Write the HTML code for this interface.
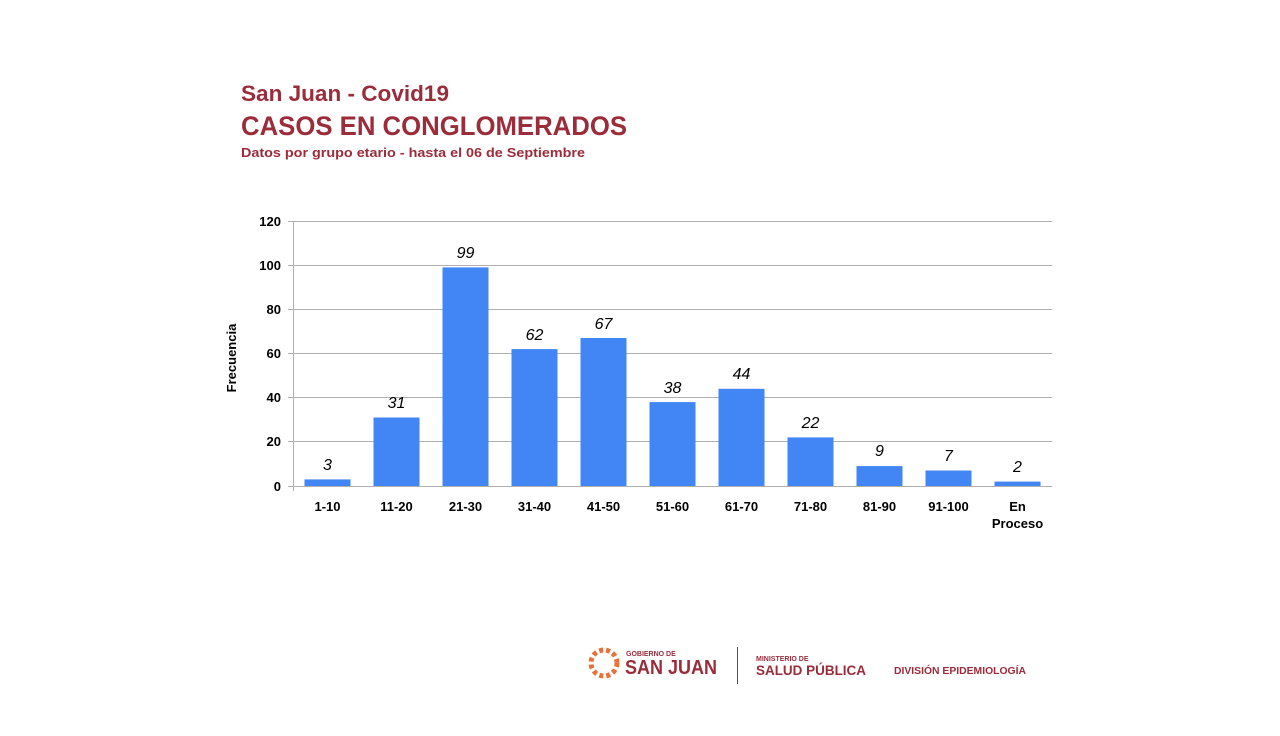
<!DOCTYPE html>
<html><head><meta charset="utf-8"><style>
body{margin:0;background:#fff;width:1280px;height:731px;overflow:hidden;font-family:"Liberation Sans",sans-serif}
</style></head><body>
<svg width="1280" height="731" xmlns="http://www.w3.org/2000/svg" font-family="Liberation Sans, sans-serif">
<text x="241" y="101" font-size="22" font-weight="bold" fill="#9b2c3a" textLength="208" lengthAdjust="spacingAndGlyphs">San Juan - Covid19</text>
<text x="241" y="135" font-size="27" font-weight="bold" fill="#9b2c3a" textLength="386" lengthAdjust="spacingAndGlyphs">CASOS EN CONGLOMERADOS</text>
<text x="241" y="157" font-size="12.5" font-weight="bold" fill="#9b2c3a" textLength="344" lengthAdjust="spacingAndGlyphs">Datos por grupo etario - hasta el 06 de Septiembre</text>
<g stroke="#b0b0b0" stroke-width="1">
<line x1="288" y1="221.5" x2="1052" y2="221.5"/>
<line x1="288" y1="265.5" x2="1052" y2="265.5"/>
<line x1="288" y1="309.5" x2="1052" y2="309.5"/>
<line x1="288" y1="353.5" x2="1052" y2="353.5"/>
<line x1="288" y1="397.5" x2="1052" y2="397.5"/>
<line x1="288" y1="441.5" x2="1052" y2="441.5"/>
<line x1="288" y1="486.5" x2="1052" y2="486.5"/>
<line x1="293.5" y1="221" x2="293.5" y2="491"/>
</g>
<g font-size="13" font-weight="bold" text-anchor="end" fill="#000">
<text x="281" y="226">120</text><text x="281" y="270">100</text><text x="281" y="314">80</text>
<text x="281" y="358">60</text><text x="281" y="402">40</text><text x="281" y="446">20</text><text x="281" y="491">0</text>
</g>
<text transform="translate(236,358) rotate(-90)" font-size="13" font-weight="bold" text-anchor="middle">Frecuencia</text>
<g fill="#4285f4">
<rect x="304.5" y="479.4" width="46" height="6.6"/>
<rect x="373.5" y="417.5" width="46" height="68.5"/>
<rect x="442.5" y="267.4" width="46" height="218.6"/>
<rect x="511.5" y="349.1" width="46" height="136.9"/>
<rect x="580.5" y="338.0" width="46" height="148"/>
<rect x="649.5" y="402.1" width="46" height="83.9"/>
<rect x="718.5" y="388.8" width="46" height="97.2"/>
<rect x="787.5" y="437.4" width="46" height="48.6"/>
<rect x="856.5" y="466.1" width="46" height="19.9"/>
<rect x="925.5" y="470.5" width="46" height="15.5"/>
<rect x="994.5" y="481.6" width="46" height="4.4"/>
</g>
<g font-size="16" font-style="italic" text-anchor="middle">
<text x="327.5" y="470">3</text><text x="396.5" y="408">31</text><text x="465.5" y="258">99</text>
<text x="534.5" y="340">62</text><text x="603.5" y="329">67</text><text x="672.5" y="393">38</text>
<text x="741.5" y="379">44</text><text x="810.5" y="428">22</text><text x="879.5" y="456">9</text>
<text x="948.5" y="461">7</text><text x="1017.5" y="472">2</text>
</g>
<g font-size="13" font-weight="bold" text-anchor="middle">
<text x="327.5" y="511">1-10</text><text x="396.5" y="511">11-20</text><text x="465.5" y="511">21-30</text>
<text x="534.5" y="511">31-40</text><text x="603.5" y="511">41-50</text><text x="672.5" y="511">51-60</text>
<text x="741.5" y="511">61-70</text><text x="810.5" y="511">71-80</text><text x="879.5" y="511">81-90</text>
<text x="948.5" y="511">91-100</text><text x="1017.5" y="511">En</text><text x="1017.5" y="528">Proceso</text>
</g>
<circle cx="604" cy="663" r="13" fill="none" stroke="#e8703a" stroke-width="5" stroke-dasharray="4 3"/>
<text x="626" y="656" font-size="7" font-weight="bold" fill="#9b2c3a">GOBIERNO DE</text>
<text x="625" y="674" font-size="20" font-weight="bold" fill="#9b2c3a" textLength="92" lengthAdjust="spacingAndGlyphs">SAN JUAN</text>
<line x1="737.5" y1="647" x2="737.5" y2="684" stroke="#9b2c3a" stroke-width="1"/>
<text x="756" y="661" font-size="7" font-weight="bold" fill="#9b2c3a">MINISTERIO DE</text>
<text x="756" y="675" font-size="14" font-weight="bold" fill="#9b2c3a" textLength="110" lengthAdjust="spacingAndGlyphs">SALUD PÚBLICA</text>
<text x="894" y="674" font-size="10" font-weight="bold" fill="#9b2c3a" textLength="132" lengthAdjust="spacingAndGlyphs">DIVISIÓN EPIDEMIOLOGÍA</text>
</svg>
</body></html>
